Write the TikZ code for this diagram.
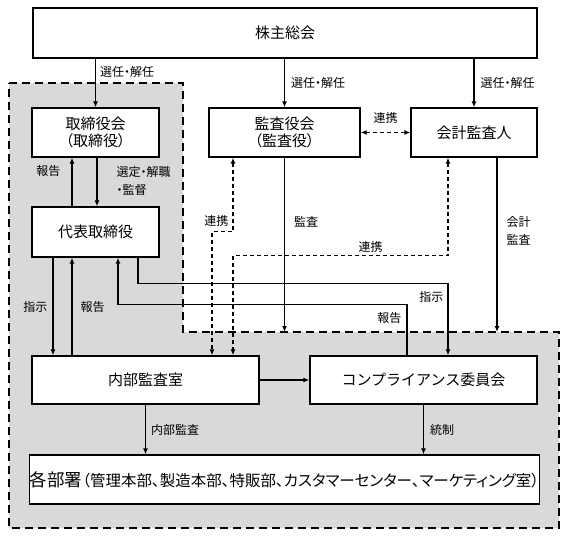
\documentclass[tikz,border=0pt]{standalone}
\usepackage{fontspec}
\setmainfont{Noto Sans CJK JP}
\newfontfamily\palfont[RawFeature=+palt]{Noto Sans CJK JP}
\usetikzlibrary{arrows.meta}
\definecolor{grpgray}{HTML}{D9D9D9}

\begin{document}
\begin{tikzpicture}[x=1pt,y=-1pt,
    box/.style={draw, line width=1.4pt, fill=white, inner sep=0pt, align=center, font=\fontsize{15}{17}\selectfont},
    lab/.style={inner sep=1pt, align=left, font=\palfont\fontsize{12}{18}\selectfont},
    arr/.style={line width=1.2pt, -{Latex[length=6pt,width=5pt]}},
    darr/.style={line width=1.2pt, dash pattern=on 4pt off 3pt, {Latex[length=6pt,width=5pt]}-{Latex[length=6pt,width=5pt]}}]
      \useasboundingbox (0,0) rectangle (569,537);
      \fill[white] (0,0) rectangle (569,537);

      % gray group
      \filldraw[fill=grpgray, line width=1.6pt, dash pattern=on 8pt off 5pt]
        (9,83) -- (183,83) -- (183,332) -- (559,332) -- (559,528) -- (9,528) -- cycle;
      \coordinate (grp) at (183,332);

      \node[box, minimum width=504pt, minimum height=50pt] (share) at (285,33) {株主総会};
      \node[box, minimum width=127pt, minimum height=49pt] (board) at (95.5,132.5) {取締役会\\{\palfont（取締役）}};
      \node[box, minimum width=151pt, minimum height=49pt] (kansa) at (284.5,132.5) {監査役会\\{\palfont（監査役）}};
      \node[box, minimum width=126pt, minimum height=49pt] (kaikei) at (474,132.5) {会計監査人};
      \node[box, minimum width=127pt, minimum height=50pt] (ceo) at (95.5,232) {代表取締役};
      \node[box, minimum width=227pt, minimum height=48pt] (naibu) at (145.5,380) {内部監査室};
      \node[box, minimum width=227pt, minimum height=48pt] (comp) at (423.5,380) {コンプライアンス委員会};
      \node[box, minimum width=505pt, minimum height=49pt] (dept) at (284.5,479.5)
        {{\fontsize{17.5}{17}\selectfont 各部署}{\palfont\fontsize{15.5}{17}\selectfont （管理本部、製造本部、特販部、カスタマーセンター、マーケティング室）}};

      % appointment
      \draw[arr] (share.south -| board.north) -- (board.north) node[lab, pos=0.28, right=3pt] {選任・解任};
      \draw[arr] (share.south -| kansa.north) -- (kansa.north) node[lab, midway, right=5pt] {選任・解任};
      \draw[arr] (share.south -| kaikei.north) -- (kaikei.north) node[lab, midway, right=5pt] {選任・解任};
      \draw[darr] (kansa.east) -- (kaikei.west) node[lab, midway, above=7pt] {連携};

      % board and representative director
      \draw[arr] ([xshift=-23.5pt]ceo.north) -- ([xshift=-23.5pt]board.south) node[lab, pos=0.72, left=10pt] {報告};
      \draw[arr] ([xshift=1.5pt]board.south) -- ([xshift=1.5pt]ceo.north) node[lab, pos=0.48, right=18pt] {選定・解職\\・監督};

      % representative director and internal audit
      \draw[arr] ([xshift=-42.5pt]ceo.south) -- ([xshift=-42.5pt]ceo.south |- naibu.north) node[lab, midway, left=4pt] {指示};
      \draw[arr] ([xshift=-23.5pt]ceo.south |- naibu.north) -- ([xshift=-23.5pt]ceo.south) node[lab, midway, right=7pt] {報告};
      \draw[arr] ([xshift=42.5pt]ceo.south) -- ++(0,26) -| ([xshift=24.5pt]comp.north) node[lab, pos=0.59, left=3pt] {指示};
      \draw[arr] ([xshift=-16.5pt]comp.north) -- ++(0,-51) node[lab, pos=0.73, left=4pt] {報告} -| ([xshift=22.5pt]ceo.south);

      % audit
      \draw[arr] (kansa.south) -- (kansa.south |- grp) node[lab, pos=0.37, right=8pt] {監査};
      \draw[arr] ([xshift=23pt]kaikei.south) -- ([xshift=23pt]kaikei.south |- grp) node[lab, pos=0.42, right=8pt] {会計\\監査};
      \draw[darr] ([xshift=-51.5pt]kansa.south) -- ++(0,74) node[lab, pos=0.86, left=3pt] {連携} -| ([xshift=66.5pt]naibu.north);
      \draw[darr] ([xshift=-26pt]kaikei.south) -- ++(0,98) -| ([xshift=87.5pt]naibu.north) node[lab, pos=0.18, above=2pt] {連携};

      % control
      \draw[arr] (naibu.east) -- (comp.west);
      \draw[arr] (naibu.south) -- (naibu.south |- dept.north) node[lab, midway, right=4pt] {内部監査};
      \draw[arr] (comp.south) -- (comp.south |- dept.north) node[lab, midway, right=5pt] {統制};
    \end{tikzpicture}
\end{document}
